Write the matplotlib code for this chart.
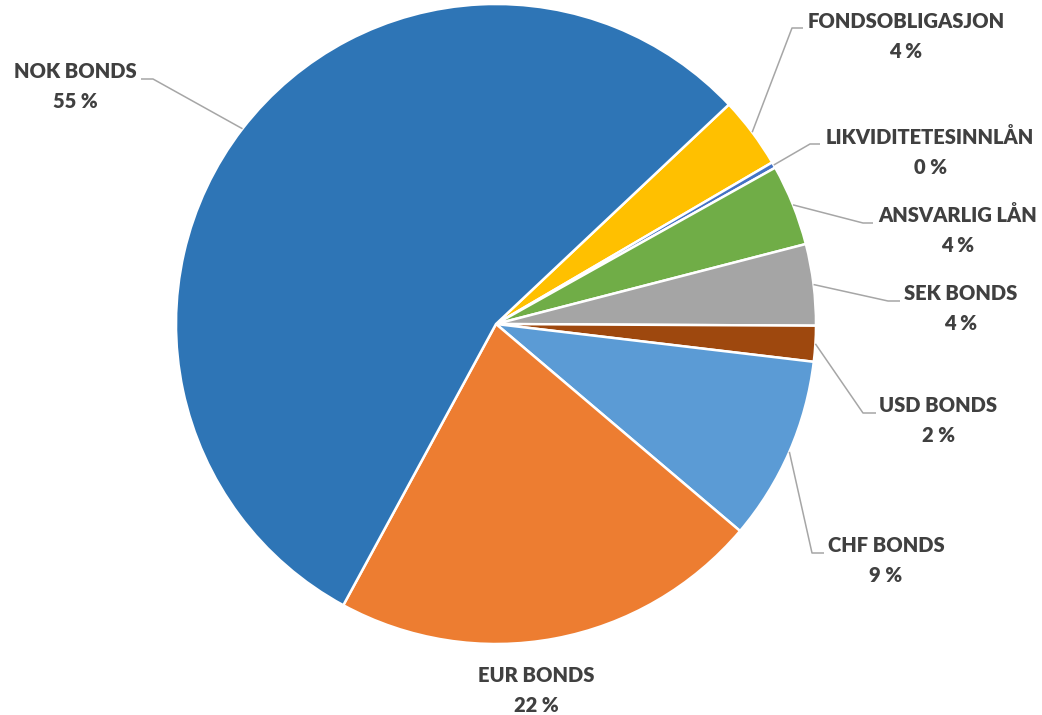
import numpy as np
import matplotlib
matplotlib.use("Agg")
import matplotlib.pyplot as plt

# slices in clockwise order, starting at the NOK/Fondsobligasjon boundary
labels = ["FONDSOBLIGASJON", "LIKVIDITETESINNLÅN", "ANSVARLIG LÅN", "SEK BONDS",
          "USD BONDS", "CHF BONDS", "EUR BONDS", "NOK BONDS"]
values = [3.6, 0.3, 4.1, 4.1, 1.8, 9.3, 21.7, 55.0]
colors = ["#FFC000", "#4472C4", "#70AD47", "#A5A5A5",
          "#9E480E", "#5B9BD5", "#ED7D31", "#2E75B6"]

# label layout in pixels (text centre x, first line y, leader knee, leader end)
W, H = 1042, 715
text_pos = [(906, 22), (930, 137), (958, 215), (961, 294),
            (938, 406), (886, 546), (536, 675), (75, 72)]
knees = [((792, 28), (803, 28)), ((810, 144), (820, 144)), ((863, 223), (873, 223)),
         ((888, 301), (900, 301)), ((863, 413), (876, 413)), ((812, 553), (824, 553)),
         None, ((153, 79), (141, 79))]

CX, CY, R = 496, 324, 320
START = 43.3

fig = plt.figure(figsize=(W / 100, H / 100), dpi=100)
ax = fig.add_axes([0, 0, 1, 1])
wedges, _ = ax.pie(values, colors=colors, startangle=START, counterclock=False,
                   center=(CX, H - CY), radius=R,
                   wedgeprops=dict(edgecolor="white", linewidth=1.8))
ax.set_xlim(0, W)
ax.set_ylim(0, H)
ax.set_aspect("equal")
ax.axis("off")

total = sum(values)
font = dict(family=["Lato", "DejaVu Sans"], fontweight="heavy", fontsize=14.5, color="#404040")
for w, lab, v, (tx, ty), kn in zip(wedges, labels, values, text_pos, knees):
    ax.text(tx, H - ty, lab, ha="center", va="center", **font)
    ax.text(tx, H - ty - 30, f"{round(v / total * 100):.0f} %", ha="center", va="center", **font)
    if kn is None:
        continue
    mid = np.deg2rad((w.theta1 + w.theta2) / 2)
    sx, sy = CX + R * np.cos(mid), H - CY + R * np.sin(mid)
    ax.plot([sx, kn[0][0], kn[1][0]], [sy, H - kn[0][1], H - kn[1][1]],
            color="#A6A6A6", linewidth=1.1, solid_capstyle="butt")

fig.savefig("out.png", dpi=100)
